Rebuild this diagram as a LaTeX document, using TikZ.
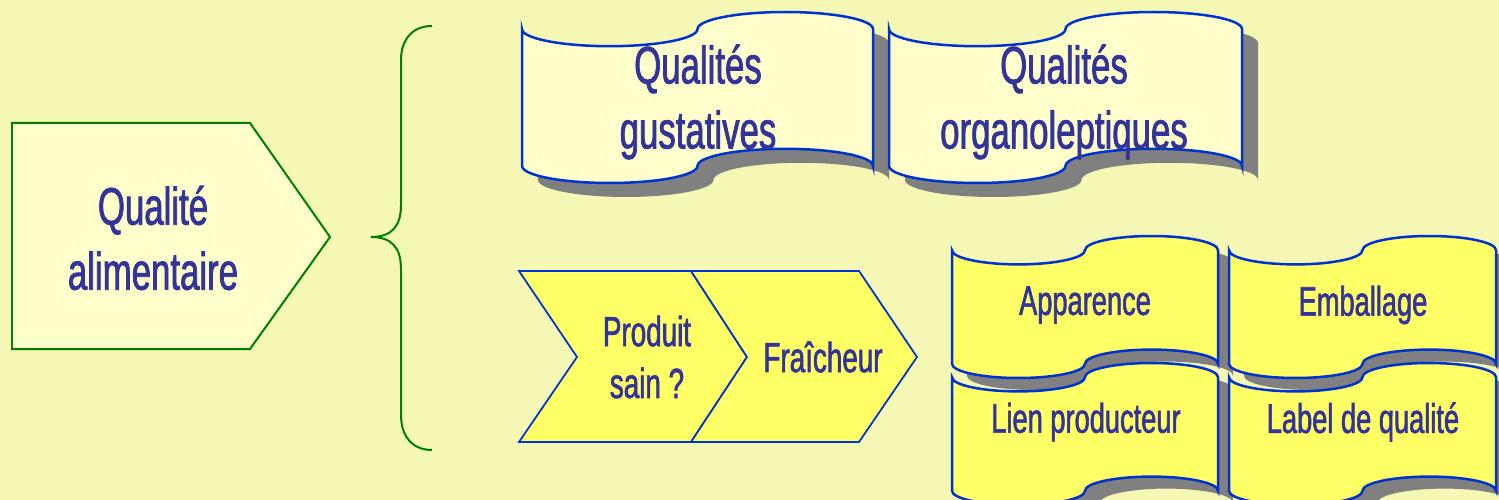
\documentclass[tikz,border=0pt]{standalone}
\usepackage{fontspec}
\setmainfont{Liberation Sans}[FakeStretch=0.66, FakeBold=1.4, UprightFeatures={FakeBold=1.4}]
\usepackage{tikz}
\usepackage{color}

\definecolor{fond}{HTML}{F5F7B5}
\definecolor{pale}{HTML}{FFFFCC}
\definecolor{jaune}{HTML}{FFFF66}
\definecolor{bleu}{HTML}{0033CC}
\definecolor{texte}{HTML}{333399}
\definecolor{vert}{HTML}{008000}
\definecolor{ombre}{HTML}{808080}

\newcommand{\grand}{\fontsize{30}{37}\selectfont}
\newcommand{\moyen}{\fontsize{23.5}{29}\selectfont}
\newcommand{\petit}{\fontsize{24}{29.5}\selectfont}

% x, y, largeur, hauteur, remplissage, decalage de l'ombre
\newcommand{\drapeau}[7]{
\fill[ombre, shift={(#1,#2)}, shift={(#6,#7)}, xscale=#3, yscale=#4]
  (0,0.1) .. controls (0,0.155) and (0.1125,0.2) .. (0.25,0.2)
  .. controls (0.3875,0.2) and (0.5,0.155) .. (0.5,0.1)
  .. controls (0.5,0.045) and (0.6125,0) .. (0.75,0)
  .. controls (0.8875,0) and (1,0.045) .. (1,0.1) -- (1,0.9)
  .. controls (1,0.845) and (0.8875,0.8) .. (0.75,0.8)
  .. controls (0.6125,0.8) and (0.5,0.845) .. (0.5,0.9)
  .. controls (0.5,0.955) and (0.3875,1) .. (0.25,1)
  .. controls (0.1125,1) and (0,0.955) .. (0,0.9) -- cycle;
\draw[bleu, line width=0.05cm, fill=#5, shift={(#1,#2)}, xscale=#3, yscale=#4]
  (0,0.1) .. controls (0,0.155) and (0.1125,0.2) .. (0.25,0.2)
  .. controls (0.3875,0.2) and (0.5,0.155) .. (0.5,0.1)
  .. controls (0.5,0.045) and (0.6125,0) .. (0.75,0)
  .. controls (0.8875,0) and (1,0.045) .. (1,0.1) -- (1,0.9)
  .. controls (1,0.845) and (0.8875,0.8) .. (0.75,0.8)
  .. controls (0.6125,0.8) and (0.5,0.845) .. (0.5,0.9)
  .. controls (0.5,0.955) and (0.3875,1) .. (0.25,1)
  .. controls (0.1125,1) and (0,0.955) .. (0,0.9) -- cycle;
}

\begin{document}
\begin{tikzpicture}[x=0.02cm, y=-0.02cm]

\fill[fond] (0,0) rectangle (1499,500);
\useasboundingbox (0,0) rectangle (1499,500);

\draw[vert, line width=0.04cm, fill=pale] (12,123) -- (250,123) -- (330,237) -- (250,349) -- (12,349) -- cycle;
\node[texte, font=\grand, align=center] (qualite) at (153,238) {Qualité\\alimentaire};

\draw[vert, line width=0.04cm] (432,26) .. controls (412,26) and (401,40) .. (401,60) -- (401,205)
  .. controls (401,226) and (392,237) .. (371,237) .. controls (392,237) and (401,248) .. (401,269)
  -- (401,415) .. controls (401,436) and (412,450) .. (432,450);

\drapeau{522}{12}{351}{171}{pale}{16}{14}
\drapeau{889}{12}{353}{171}{pale}{16}{14}
\node[texte, font=\grand, align=center] (gustatives) at (698,102) {Qualités\\gustatives};
\node[texte, font=\grand, align=center] (organo) at (1064,102) {Qualités\\organoleptiques};

\draw[bleu, line width=0.035cm, fill=jaune] (519,271) -- (691,271) -- (747,357) -- (691,442) -- (519,442) -- (577,357) -- cycle;
\draw[bleu, line width=0.035cm, fill=jaune] (691,271) -- (859,271) -- (917,357) -- (859,442) -- (691,442) -- (747,357) -- cycle;
\node[texte, font=\petit, align=center] (sain) at (647,357) {Produit\\sain ?};
\node[texte, font=\petit] (fraicheur) at (823,357) {Fraîcheur};

\drapeau{952}{236}{266}{142}{jaune}{15}{12}
\drapeau{1229}{236}{267}{142}{jaune}{15}{12}
\drapeau{952}{363}{266}{142}{jaune}{15}{12}
\drapeau{1229}{363}{267}{142}{jaune}{15}{12}
\node[texte, font=\moyen] (apparence) at (1085,305) {Apparence};
\node[texte, font=\moyen] (emballage) at (1363,305) {Emballage};
\node[texte, font=\moyen] (lien) at (1086,422) {Lien producteur};
\node[texte, font=\moyen] (label) at (1363,422) {Label de qualité};

\end{tikzpicture}
\end{document}
